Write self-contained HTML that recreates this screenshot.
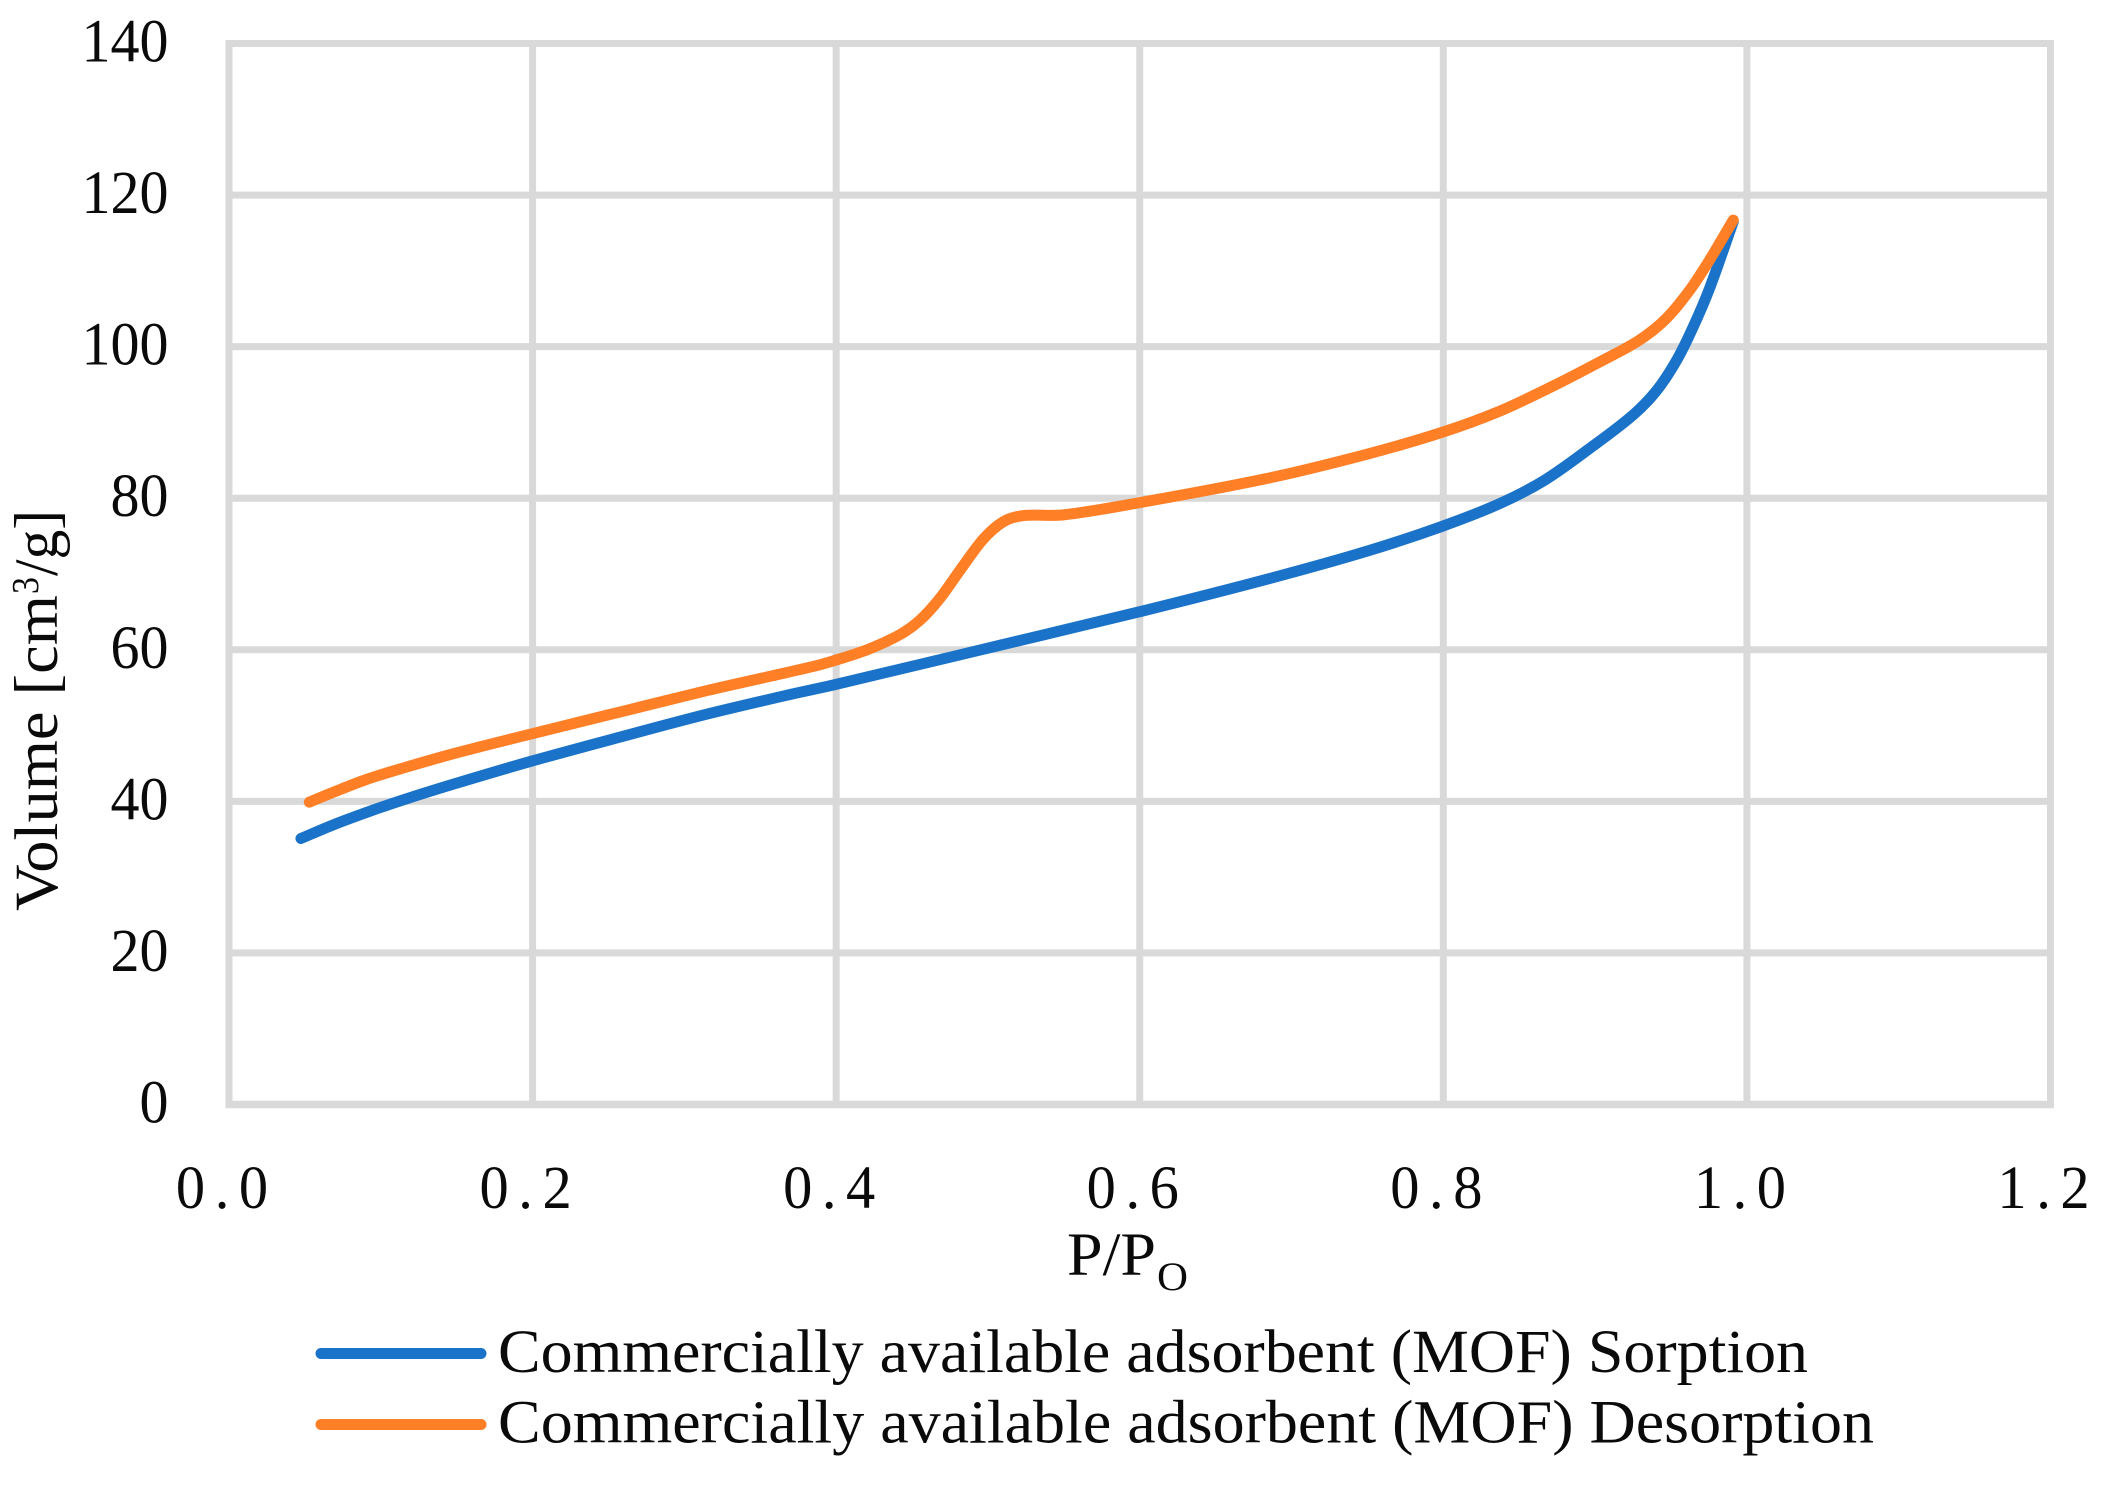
<!DOCTYPE html>
<html lang="en">
<head>
<meta charset="utf-8">
<title>Sorption and desorption isotherm chart</title>
<style>
html,body{margin:0;padding:0;background:#fff;}
svg{display:block;}
text{font-family:"Liberation Serif",serif;fill:#0a0a0a;}
</style>
</head>
<body>
<svg id="chart" width="2110" height="1491" viewBox="0 0 2110 1491" xmlns="http://www.w3.org/2000/svg">
  <rect x="0" y="0" width="2110" height="1491" fill="#ffffff"/>
  <g id="grid"></g>
  <g id="yticks"></g>
  <g id="xticks"></g>
  <g id="series"></g>
  <g>
    <text transform="translate(57,911) rotate(-90)" font-size="61" textLength="316" lengthAdjust="spacingAndGlyphs">Volume [cm</text>
    <text transform="translate(38,594) rotate(-90)" font-size="38" textLength="17" lengthAdjust="spacingAndGlyphs">3</text>
    <text transform="translate(57,576) rotate(-90)" font-size="61" textLength="66" lengthAdjust="spacingAndGlyphs">/g]</text>
  </g>
  <g>
    <text x="1067" y="1275" font-size="61" textLength="89" lengthAdjust="spacingAndGlyphs">P/P</text>
    <text x="1157" y="1290" font-size="40" textLength="31" lengthAdjust="spacingAndGlyphs">O</text>
  </g>
  <g>
    <g>
      <line x1="321" y1="1353.5" x2="481" y2="1353.5" stroke="#1a73c8" stroke-width="11" stroke-linecap="round"/>
      <text x="498" y="1372" font-size="61" textLength="1310" lengthAdjust="spacingAndGlyphs">Commercially available adsorbent (MOF) Sorption</text>
    </g>
    <g>
      <line x1="321" y1="1424.5" x2="481" y2="1424.5" stroke="#ff7f27" stroke-width="11" stroke-linecap="round"/>
      <text x="498" y="1442.5" font-size="61" textLength="1376" lengthAdjust="spacingAndGlyphs">Commercially available adsorbent (MOF) Desorption</text>
    </g>
  </g>
</svg>
<script>
const xTickValues = [0, 0.2, 0.4, 0.6, 0.8, 1.0, 1.2];
const xTickLabels = ["0.0", "0.2", "0.4", "0.6", "0.8", "1.0", "1.2"];
const yTickValues = [0, 20, 40, 60, 80, 100, 120, 140];
const yTickLabels = ["0", "20", "40", "60", "80", "100", "120", "140"];

const sorptionP = [0.0474, 0.0687, 0.0929, 0.1148, 0.15, 0.1992, 0.2598, 0.3147, 0.3696, 0.3992, 0.5079, 0.5995, 0.6836, 0.7495, 0.7993, 0.8373, 0.8669, 0.8966, 0.9251, 0.9405, 0.9537, 0.9646, 0.9756, 0.991];
const sorptionV = [35.1, 36.9, 38.7, 40.2, 42.4, 45.3, 48.6, 51.5, 54.1, 55.4, 60.6, 65.0, 69.3, 73.0, 76.3, 79.3, 82.4, 86.6, 91.0, 94.2, 98.2, 102.6, 107.8, 116.5];
const desorptionP = [0.0529, 0.0687, 0.0907, 0.1148, 0.15, 0.1992, 0.2598, 0.3125, 0.3542, 0.3869, 0.3992, 0.4204, 0.442, 0.4552, 0.4684, 0.4816, 0.4969, 0.5101, 0.5231, 0.5496, 0.5995, 0.6836, 0.7495, 0.7993, 0.8373, 0.8702, 0.9032, 0.9295, 0.9473, 0.9625, 0.9756, 0.991];
const desorptionV = [39.9, 41.2, 42.9, 44.4, 46.4, 48.9, 51.9, 54.5, 56.4, 57.9, 58.6, 60.0, 62.0, 63.9, 66.8, 70.5, 74.6, 76.9, 77.7, 77.8, 79.4, 82.6, 85.8, 88.7, 91.5, 94.6, 98.0, 100.9, 103.8, 107.5, 111.5, 116.7];

const NS = "http://www.w3.org/2000/svg";
const xScale = function (p) { return 229 + (p / 1.2) * 1821.5; };
const yScale = function (v) { return 1104.5 - (v / 140) * 1061; };

const grid = document.getElementById("grid");
yTickValues.forEach(function (v) {
  const l = document.createElementNS(NS, "line");
  l.setAttribute("x1", xScale(0) - 3.5);
  l.setAttribute("x2", xScale(1.2) + 3.5);
  l.setAttribute("y1", yScale(v));
  l.setAttribute("y2", yScale(v));
  l.setAttribute("stroke", "#d9d9d9");
  l.setAttribute("stroke-width", v === 0 ? 7.6 : 7);
  
  
  grid.appendChild(l);
});
xTickValues.forEach(function (p) {
  const l = document.createElementNS(NS, "line");
  l.setAttribute("x1", xScale(p));
  l.setAttribute("x2", xScale(p));
  l.setAttribute("y1", yScale(140) - 3.5);
  l.setAttribute("y2", yScale(0) + 3.5);
  l.setAttribute("stroke", "#d9d9d9");
  l.setAttribute("stroke-width", 7);
  
  
  grid.appendChild(l);
});

const yticks = document.getElementById("yticks");
yTickValues.forEach(function (v, i) {
  const t = document.createElementNS(NS, "text");
  const label = yTickLabels[i];
  t.textContent = label;
  t.setAttribute("x", 168.5);
  t.setAttribute("y", yScale(v) + 18);
  t.setAttribute("font-size", 61.5);
  t.setAttribute("text-anchor", "end");
  t.setAttribute("textLength", label.length * 29);
  t.setAttribute("lengthAdjust", "spacingAndGlyphs");
  
  
  yticks.appendChild(t);
});

const xticks = document.getElementById("xticks");
xTickValues.forEach(function (p, i) {
  const t = document.createElementNS(NS, "text");
  t.textContent = xTickLabels[i];
  t.setAttribute("transform", "translate(" + (xScale(p) - 7) + ",1208) scale(0.95,1)");
  t.setAttribute("x", 0);
  t.setAttribute("y", 0);
  t.setAttribute("font-size", 61.5);
  t.setAttribute("text-anchor", "middle");
  t.setAttribute("textLength", 97);
  t.setAttribute("lengthAdjust", "spacing");
  
  
  xticks.appendChild(t);
});

function smoothPath(ps, vs) {
  const pts = ps.map(function (p, i) { return [xScale(p), yScale(vs[i])]; });
  const n = pts.length;
  const slope = function (i) {
    const a = pts[Math.max(i - 1, 0)];
    const b = pts[Math.min(i + 1, n - 1)];
    return (b[1] - a[1]) / (b[0] - a[0]);
  };
  let d = "M" + pts[0][0].toFixed(2) + " " + pts[0][1].toFixed(2);
  for (let i = 0; i < n - 1; i++) {
    const b = pts[i];
    const c = pts[i + 1];
    const h = (c[0] - b[0]) / 3;
    d += "C" + (b[0] + h).toFixed(2) + " " + (b[1] + slope(i) * h).toFixed(2) + " " + (c[0] - h).toFixed(2) + " " + (c[1] - slope(i + 1) * h).toFixed(2) + " " + c[0].toFixed(2) + " " + c[1].toFixed(2);
  }
  return d;
}

const seriesGroup = document.getElementById("series");

const sorptionLine = document.createElementNS(NS, "path");
sorptionLine.setAttribute("d", smoothPath(sorptionP, sorptionV));
sorptionLine.setAttribute("fill", "none");
sorptionLine.setAttribute("stroke", "#1a73c8");
sorptionLine.setAttribute("stroke-width", 11);
sorptionLine.setAttribute("stroke-linecap", "round");
sorptionLine.setAttribute("stroke-linejoin", "round");


seriesGroup.appendChild(sorptionLine);

const desorptionLine = document.createElementNS(NS, "path");
desorptionLine.setAttribute("d", smoothPath(desorptionP, desorptionV));
desorptionLine.setAttribute("fill", "none");
desorptionLine.setAttribute("stroke", "#ff7f27");
desorptionLine.setAttribute("stroke-width", 11);
desorptionLine.setAttribute("stroke-linecap", "round");
desorptionLine.setAttribute("stroke-linejoin", "round");


seriesGroup.appendChild(desorptionLine);
</script>
</body>
</html>
